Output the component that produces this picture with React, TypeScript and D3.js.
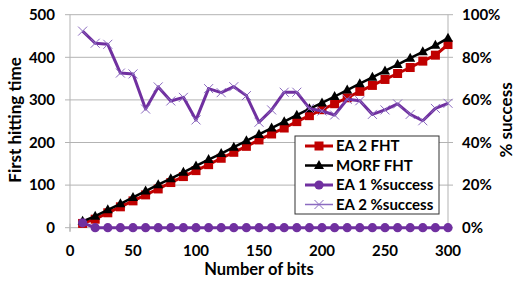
import React from 'react';
import * as d3 from 'd3';

// number of bits on the x axis
const bits = [10, 20, 30, 40, 50, 60, 70, 80, 90, 100, 110, 120, 130, 140, 150, 160, 170, 180, 190, 200, 210, 220, 230, 240, 250, 260, 270, 280, 290, 300];

// first hitting time (left axis)
const ea2Fht = [10, 20, 35, 49, 63, 77, 91, 106, 120, 134, 148, 163, 177, 191, 206, 220, 234, 249, 263, 277, 291, 305, 320, 334, 348, 362, 376, 391, 405, 430];
const morfFht = [15, 27, 42, 56, 71, 86, 101, 115, 130, 145, 160, 174, 189, 204, 219, 234, 249, 264, 279, 293, 308, 323, 338, 353, 368, 383, 398, 413, 428, 445];

// success rates (right axis)
const ea1Success = [0.023, 0, 0, 0, 0, 0, 0, 0, 0, 0, 0, 0, 0, 0, 0, 0, 0, 0, 0, 0, 0, 0, 0, 0, 0, 0, 0, 0, 0, 0];
const ea2Success = [0.923, 0.866, 0.861, 0.726, 0.722, 0.557, 0.661, 0.595, 0.612, 0.506, 0.653, 0.634, 0.662, 0.62, 0.495, 0.553, 0.636, 0.636, 0.56, 0.548, 0.529, 0.603, 0.596, 0.532, 0.553, 0.581, 0.532, 0.502, 0.56, 0.584];

const xTicks = [0, 50, 100, 150, 200, 250, 300];
const leftTicks = [0, 100, 200, 300, 400, 500];
const rightTicks = [0, 0.2, 0.4, 0.6, 0.8, 1];

const RED = '#C00000';
const PURPLE = '#7030A0';
const XPURPLE = '#8B6BC0';
const GRID = '#b3b3b3';
const FONT = 'Lato, "Open Sans", sans-serif';

export default function App() {
  const W = 515;
  const H = 282;
  const x = d3.scaleLinear().domain([0, 300]).range([70, 448]);
  const yL = d3.scaleLinear().domain([0, 500]).range([227.7, 14.7]);
  const yR = d3.scaleLinear().domain([0, 1]).range([227.7, 14.7]);

  const lineL = d3.line<number>().x((d, i) => x(bits[i])).y(d => yL(d));
  const lineR = d3.line<number>().x((d, i) => x(bits[i])).y(d => yR(d));

  const square = (cx: number, cy: number, k: string) => (
    <rect key={k} x={cx - 4.5} y={cy - 4.5} width={9} height={9} fill={RED} />
  );
  const tri = (cx: number, cy: number, k: string) => (
    <path key={k} d={`M${cx},${cy - 5.5}L${cx + 5},${cy + 3.5}L${cx - 5},${cy + 3.5}Z`} fill="#000" />
  );
  const circ = (cx: number, cy: number, k: string) => (
    <circle key={k} cx={cx} cy={cy} r={4.6} fill={PURPLE} />
  );
  const cross = (cx: number, cy: number, k: string) => (
    <path key={k} d={`M${cx - 4.5},${cy - 4.5}L${cx + 4.5},${cy + 4.5}M${cx - 4.5},${cy + 4.5}L${cx + 4.5},${cy - 4.5}`} stroke={XPURPLE} strokeWidth={1} />
  );

  const legend = [
    { label: 'EA 2 FHT', color: RED, w: 3, m: square },
    { label: 'MORF FHT', color: '#000', w: 2.5, m: tri },
    { label: 'EA 1 %success', color: PURPLE, w: 3, m: circ },
    { label: 'EA 2 %success', color: XPURPLE, w: 1.5, m: cross },
  ];

  return (
    <svg width={W} height={H} style={{ position: 'absolute', left: 0, top: 0 }} fontFamily={FONT} fontWeight="bold">
      <rect width={W} height={H} fill="#fff" />
      {/* gridlines */}
      {leftTicks.filter(t => t > 0).map(t => (
        <line key={'g' + t} x1={70} x2={448} y1={yL(t)} y2={yL(t)} stroke={GRID} strokeWidth={1} />
      ))}
      {/* axes */}
      <line x1={70} x2={70} y1={yL(500)} y2={yL(0) + 4} stroke={GRID} />
      <line x1={448} x2={448} y1={yL(500)} y2={yL(0)} stroke={GRID} />
      <line x1={70} x2={448} y1={yL(0)} y2={yL(0)} stroke={GRID} />
      {leftTicks.map(t => (
        <line key={'lt' + t} x1={65} x2={70} y1={yL(t)} y2={yL(t)} stroke={GRID} />
      ))}
      {rightTicks.map(t => (
        <line key={'rt' + t} x1={448} x2={453} y1={yR(t)} y2={yR(t)} stroke={GRID} />
      ))}
      {xTicks.map(t => (
        <line key={'xt' + t} x1={x(t)} x2={x(t)} y1={yL(0) - 4} y2={yL(0) + 4} stroke={GRID} />
      ))}

      {/* tick labels */}
      {leftTicks.map(t => (
        <text key={'ll' + t} x={55} y={yL(t)} dy="0.35em" textAnchor="end" fontSize={15}>{t}</text>
      ))}
      {rightTicks.map(t => (
        <text key={'rl' + t} x={462} y={yR(t)} dy="0.35em" textAnchor="start" fontSize={15}>{d3.format('.0%')(t)}</text>
      ))}
      {xTicks.map(t => (
        <text key={'xl' + t} x={x(t)} y={256} textAnchor="middle" fontSize={15}>{t}</text>
      ))}

      {/* axis titles */}
      <text x={259} y={275} textAnchor="middle" fontSize={16.5}>Number of bits</text>
      <text transform="translate(21,120) rotate(-90)" textAnchor="middle" fontSize={17}>First hitting time</text>
      <text transform="translate(512,120) rotate(-90)" textAnchor="middle" fontSize={17}>% success</text>

      {/* series */}
      <path d={lineL(ea2Fht) || ''} fill="none" stroke={RED} strokeWidth={3} />
      {ea2Fht.map((v, i) => square(x(bits[i]), yL(v), 's' + i))}
      <path d={lineL(morfFht) || ''} fill="none" stroke="#000" strokeWidth={2.5} />
      {morfFht.map((v, i) => tri(x(bits[i]), yL(v), 't' + i))}
      <path d={lineR(ea1Success) || ''} fill="none" stroke={PURPLE} strokeWidth={3} />
      {ea1Success.map((v, i) => circ(x(bits[i]), yR(v), 'c' + i))}
      <path d={lineR(ea2Success) || ''} fill="none" stroke={PURPLE} strokeWidth={3} strokeLinejoin="round" />
      {ea2Success.map((v, i) => cross(x(bits[i]), yR(v), 'x' + i))}

      {/* legend */}
      <rect x={295} y={136} width={144} height={78} fill="#fff" stroke="#333" strokeWidth={1} />
      {legend.map((l, i) => {
        const cy = 146 + i * 19.5;
        return (
          <g key={'lg' + i}>
            <line x1={305} x2={333} y1={cy} y2={cy} stroke={l.color} strokeWidth={l.w} />
            {l.m(319, cy, 'lm' + i)}
            <text x={336} y={cy} dy="0.35em" fontSize={15}>{l.label}</text>
          </g>
        );
      })}
    </svg>
  );
}
